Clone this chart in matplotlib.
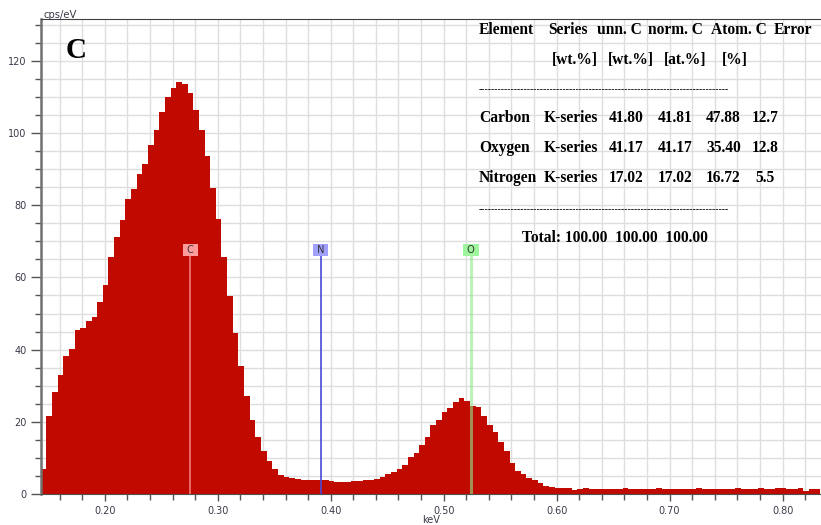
import numpy as np
import matplotlib
matplotlib.use("Agg")
import matplotlib.pyplot as plt
from matplotlib.ticker import MultipleLocator, FormatStrFormatter

# EDS spectrum, 5 eV channels starting at the left edge of the plot
e_start = 0.1433
bin_width = 0.005
counts = [
    6.9, 21.7, 28.2, 33.1, 38.1, 40.3, 45.4, 46.0, 47.9, 49.1, 53.2, 58.0,
    65.7, 71.3, 76.0, 81.6, 84.4, 88.6, 91.4, 96.7, 100.8, 105.9, 109.9, 112.5,
    114.0, 113.5, 111.2, 106.5, 100.8, 93.5, 84.9, 76.3, 65.7,
    54.8, 44.6, 35.4, 27.2, 20.4, 15.8, 12.0, 9.2, 7.0, 5.4, 4.8, 4.3, 4.2,
    4.0, 3.9, 3.9, 3.9, 3.9, 3.6, 3.3, 3.2, 3.2, 3.6, 3.7, 3.9, 3.9, 4.2,
    4.6, 5.5, 6.1, 7.0, 8.1, 10.3,
    11.4, 13.5, 15.8, 19.1, 20.6, 22.8, 23.9, 25.5, 26.7, 25.9, 24.4, 24.2,
    21.7, 19.0, 17.3, 14.5, 12.0, 8.5, 6.3, 5.5, 4.4, 3.9, 3.0, 2.2, 1.85,
    1.6, 1.6, 1.6, 1.2, 1.3, 1.7, 1.4, 1.4, 1.4, 1.3, 1.4, 1.4, 1.7, 1.5,
    1.4, 1.5, 1.3, 1.3, 1.7, 1.5, 1.4, 1.5, 1.5, 1.3, 1.4, 1.7, 1.5, 1.3,
    1.4, 1.4, 1.3, 1.5, 1.7, 1.5, 1.3, 1.5, 1.7, 1.4, 1.4, 1.7, 1.6, 1.4,
    1.4, 1.7, 0.9, 1.5, 1.5,
]

# element lines
elements = ["C", "N", "O"]
line_kev = [0.2755, 0.3911, 0.5244]
line_top = 66.0
label_y = 67.6
box_colors = ["#ff9c9c", "#a0a0ff", "#9ef59e"]
line_colors = ["#f47a7a", "#4a4ad8", "#8fe88f"]

# quantification table
header1 = ["Element", "Series", "unn. C", "norm. C", "Atom. C", "Error"]
header2 = ["[wt.%]", "[wt.%]", "[at.%]", "[%]"]
names = ["Carbon", "Oxygen", "Nitrogen"]
series = ["K-series", "K-series", "K-series"]
unn_c = ["41.80", "41.17", "17.02"]
norm_c = ["41.81", "41.17", "17.02"]
atom_c = ["47.88", "35.40", "16.72"]
error = ["12.7", "12.8", "5.5"]
total = "Total: 100.00  100.00  100.00"

W, H = 821, 525
fig = plt.figure(figsize=(W / 100, H / 100), dpi=100)
ax = fig.add_axes([40.7 / W, 31 / H, 1 - 40.7 / W, (494 - 19.3) / H])

edges = e_start + bin_width * np.arange(len(counts) + 1)
ax.stairs(counts, edges, fill=True, color="#c00a00", linewidth=0, zorder=2)

for el, xk, bc, lc in zip(elements, line_kev, box_colors, line_colors):
    alpha = 0.6 if el == "O" else 1.0
    lw = 2.2 if el == "O" else 1.2
    ax.plot([xk, xk], [0, line_top], color=lc, lw=lw, alpha=alpha, zorder=3)
    ax.text(xk, label_y, " " + el + " ", ha="center", va="center",
            fontsize=7, color="#333333", zorder=4,
            bbox=dict(boxstyle="square,pad=0.1", fc=bc, ec="none"))

ax.set_xlim(0.1433, 0.834)
ax.set_ylim(0, 131.5)
ax.xaxis.set_major_locator(MultipleLocator(0.1))
ax.xaxis.set_minor_locator(MultipleLocator(0.02))
ax.xaxis.set_major_formatter(FormatStrFormatter("%.2f"))
ax.yaxis.set_major_locator(MultipleLocator(20))
ax.yaxis.set_minor_locator(MultipleLocator(5))
ax.grid(which="both", color="#dedede", lw=1, zorder=0)
ax.set_axisbelow(True)
ax.tick_params(which="both", direction="out", colors="#555555",
               labelcolor="#3a3a4a", labelsize=7, width=1)
ax.tick_params(which="major", length=7, pad=3)
ax.tick_params(which="minor", length=4)
ax.tick_params(axis="x", which="major", length=5, pad=4)
ax.spines["right"].set_visible(False)
ax.spines["left"].set_color("#707070")
ax.spines["left"].set_linewidth(1.8)
ax.spines["bottom"].set_color("#505050")
ax.spines["top"].set_color("#404040")

def px(x, y):
    return x / W, 1 - y / H

fig.text(*px(43, 15), "cps/eV", fontsize=7.2, color="#3a3a4a", va="center")
fig.text(*px(421.7, 520), "keV", fontsize=7, color="#3a3a4a", va="center")
fig.text(*px(66, 50), "C", fontsize=21, fontweight="bold",
         family="Liberation Serif", va="center")

tf = dict(fontsize=11.2, fontweight="bold", family="Liberation Serif",
          va="center", color="black")
for s, x in zip(header1, [479, 547.7, 597.3, 648, 710.7, 773.3]):
    fig.text(*px(x, 30), s, **tf)
for s, x in zip(header2, [551.7, 607.7, 664, 721.7]):
    fig.text(*px(x, 60), s, **tf)
dash = "-" * 77
fig.text(*px(479, 89.5), dash, fontsize=7, family="Liberation Serif",
         va="center")
fig.text(*px(479, 209.5), dash, fontsize=7, family="Liberation Serif",
         va="center")
row_y = [118.3, 148.3, 178.3]
for i, y in enumerate(row_y):
    fig.text(*px(479, y), names[i], **tf)
    fig.text(*px(543.3, y), series[i], **tf)
    fig.text(*px(608.3, y), unn_c[i], **tf)
    fig.text(*px(657.3, y), norm_c[i], **tf)
    fig.text(*px(706, y), atom_c[i], **tf)
    fig.text(*px(751.7 if len(error[i]) > 3 else 755, y), error[i], **tf)
fig.text(*px(522.3, 238.3), total, **tf)

fig.savefig("out.png", dpi=100)
